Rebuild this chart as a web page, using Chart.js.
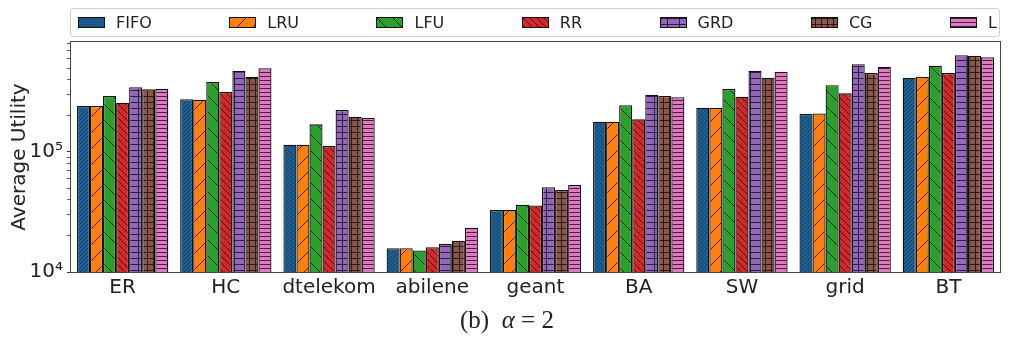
<!DOCTYPE html>
<html>
<head>
<meta charset="utf-8">
<script src="https://cdn.jsdelivr.net/npm/chart.js@4.4.0/dist/chart.umd.min.js"></script>
<style>
  body { margin: 0; background: #fff; }
  #wrap { position: relative; width: 1009px; height: 340px; }
  #legend { position: absolute; left: 70px; top: 8px; width: 930px; height: 29px; box-sizing: border-box;
            border: 1px solid #d0d0d0; border-radius: 3px; display: flex; align-items: center; padding-left: 7px;
            font: 16px 'DejaVu Sans', sans-serif; color: #222; }
  .item { display: flex; align-items: center; margin-right: 77.5px; white-space: nowrap; }
  .sw { width: 27px; height: 11px; box-sizing: border-box; border: 1px solid #111; margin-right: 11px; }
  #caption { position: absolute; left: 0; width: 1014px; top: 306px; text-align: center;
             font: 25px 'Liberation Serif', serif; color: #222; }
</style>
</head>
<body>
<div id="wrap">
  <canvas id="chart-util" width="1009" height="340"></canvas>
  <div id="legend"></div>
  <div id="caption">(b)&nbsp;&nbsp;<i>α</i>&nbsp;=&nbsp;2</div>
</div>
<script>
'use strict';

// data (log scale)
const categories = ['ER', 'HC', 'dtelekom', 'abilene', 'geant', 'BA', 'SW', 'grid', 'BT'];
const seriesNames = ['FIFO', 'LRU', 'LFU', 'RR', 'GRD', 'CG', 'L'];
const fifo = [2.42e5, 2.75e5, 1.15e5, 1.58e4, 3.28e4, 1.79e5, 2.34e5, 2.07e5, 4.16e5];
const lru  = [2.42e5, 2.73e5, 1.15e5, 1.58e4, 3.28e4, 1.79e5, 2.33e5, 2.09e5, 4.22e5];
const lfu  = [2.93e5, 3.83e5, 1.70e5, 1.51e4, 3.64e4, 2.45e5, 3.35e5, 3.60e5, 5.24e5];
const rr   = [2.57e5, 3.16e5, 1.12e5, 1.61e4, 3.59e4, 1.87e5, 2.89e5, 3.08e5, 4.55e5];
const grd  = [3.46e5, 4.73e5, 2.24e5, 1.72e4, 5.08e4, 3.00e5, 4.76e5, 5.38e5, 6.39e5];
const cg   = [3.33e5, 4.24e5, 1.97e5, 1.82e4, 4.82e4, 2.93e5, 4.16e5, 4.55e5, 6.35e5];
const lAlg = [3.35e5, 4.98e5, 1.92e5, 2.34e4, 5.31e4, 2.86e5, 4.67e5, 5.14e5, 6.15e5];
const yMajorTicks = [1e4, 1e5];
const yMajorLabels = ['10⁴', '10⁵'];
const yMinorSteps = [2, 3, 4, 5, 6, 7, 8, 9];

const seriesColors = ['#1c5f92', '#ff7f0e', '#2ca02c', '#d62728', '#9467bd', '#8c564b', '#e377c2'];
const seriesHatch = ['////', '/', '\\', '\\\\', '+', '++', '--'];

function hatchTile(color, hatch) {
  const s = {'////': 4, '/': 16, '\\': 16, '\\\\': 7, '+': 12, '++': 6, '--': 4}[hatch];
  const t = document.createElement('canvas');
  t.width = s; t.height = hatch === '+' ? 6 : s;
  const c = t.getContext('2d');
  c.fillStyle = color; c.fillRect(0, 0, t.width, t.height);
  c.strokeStyle = hatch === '////' ? 'rgba(10,30,60,0.45)' : 'rgba(0,0,0,0.7)';
  c.lineWidth = 1;
  c.beginPath();
  if (hatch.includes('/')) {
    for (const o of [-s, 0, s]) { c.moveTo(o, s); c.lineTo(o + s, 0); }
  } else if (hatch.includes('\\')) {
    for (const o of [-s, 0, s]) { c.moveTo(o, 0); c.lineTo(o + s, s); }
  } else if (hatch === '--') {
    c.moveTo(0, 0.5); c.lineTo(t.width, 0.5);
  } else {
    c.moveTo(0, 0.5); c.lineTo(t.width, 0.5);
    c.moveTo(t.width / 2 + 0.5, 0); c.lineTo(t.width / 2 + 0.5, t.height);
  }
  c.stroke();
  return t;
}

const tiles = seriesColors.map((col, i) => hatchTile(col, seriesHatch[i]));
const allSeries = [fifo, lru, lfu, rr, grd, cg, lAlg];

// html legend (matplotlib style, one row)
const legendEl = document.getElementById('legend');
seriesNames.forEach((n, i) => {
  const it = document.createElement('div');
  it.className = 'item';
  if (i === seriesNames.length - 1) it.style.marginRight = '0';
  it.innerHTML = `<span class="sw" style="background-image:url(${tiles[i].toDataURL()})"></span><span>${n}</span>`;
  legendEl.appendChild(it);
});

const framePlugin = {
  id: 'frame',
  afterDatasetsDraw(chart) {
    const {ctx, chartArea: a} = chart;
    ctx.save();
    ctx.strokeStyle = '#444';
    ctx.lineWidth = 1;
    ctx.strokeRect(Math.round(a.left) - 0.5, Math.round(a.top) - 0.5, Math.round(a.right - a.left) + 1, Math.round(a.bottom - a.top) + 1);
    ctx.restore();
  }
};

const canvas = document.getElementById('chart-util');
const cx = canvas.getContext('2d');
const font = {family: 'DejaVu Sans', size: 20};

new Chart(canvas, {
  type: 'bar',
  data: {
    labels: categories,
    datasets: seriesNames.map((n, i) => ({
      label: n,
      data: allSeries[i],
      backgroundColor: cx.createPattern(tiles[i], 'repeat'),
      borderColor: '#111',
      borderWidth: 1.3,
      categoryPercentage: 0.885,
      barPercentage: 1.0
    }))
  },
  options: {
    responsive: false,
    animation: false,
    layout: {padding: {top: 42, right: 9, left: 0, bottom: 0}},
    plugins: {legend: {display: false}, tooltip: {enabled: false}},
    scales: {
      x: {
        grid: {display: false, drawTicks: false},
        border: {display: false},
        ticks: {color: '#222', font, padding: 4, maxRotation: 0, autoSkip: false},
        afterFit: s => { s.height = 68; }
      },
      y: {
        type: 'logarithmic',
        min: 1e4,
        max: 825000,
        border: {display: false},
        grid: {drawOnChartArea: false, drawTicks: true, tickLength: 4, tickColor: '#333',
               tickWidth: c => (c.tick && c.tick.major ? 1 : 0.8)},
        ticks: {
          color: '#222', font, padding: 4, autoSkip: false,
          callback: v => { const k = yMajorTicks.indexOf(v); return k >= 0 ? yMajorLabels[k] : ''; }
        },
        afterBuildTicks: s => {
          const t = [];
          yMajorTicks.forEach(m => {
            t.push({value: m, major: true});
            yMinorSteps.forEach(k => { if (m * k <= s.max) t.push({value: m * k, major: false}); });
          });
          s.ticks = t;
        },
        afterFit: s => { s.width = 71; },
        title: {display: true, text: 'Average Utility', color: '#222', font, padding: {top: 8, bottom: 0}}
      }
    }
  },
  plugins: [framePlugin]
});
</script>
</body>
</html>
